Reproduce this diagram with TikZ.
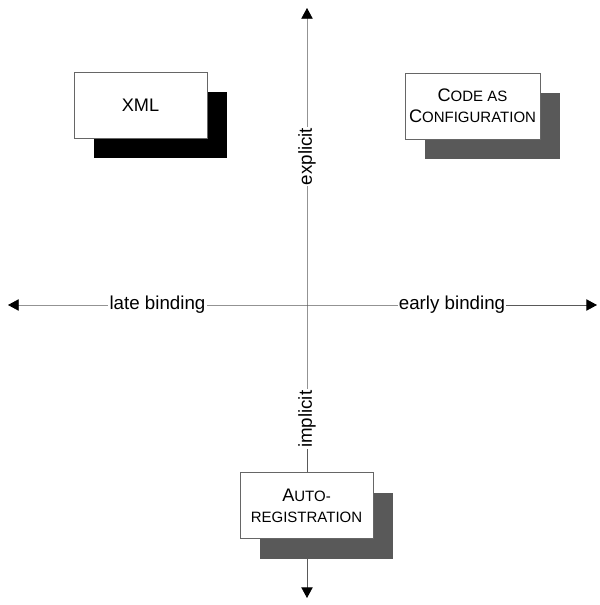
\documentclass[tikz,border=0pt]{standalone}
\usepackage{fontspec}
\setmainfont{Liberation Sans}
\usetikzlibrary{arrows.meta, shadows}

\newcommand{\fakesc}[2]{{\fontsize{15.5}{18}\selectfont #1}{\fontsize{12.8}{18}\selectfont #2}}

\begin{document}
\begin{tikzpicture}[
  x=0.3mm, y=-0.3mm,
  axis/.style={draw=black!65, line width=0.7pt, {Triangle[length=3.2mm, width=3.4mm, color=black]}-{Triangle[length=3.2mm, width=3.4mm, color=black]}},
  axislabel/.style={fill=white, inner sep=1pt, font=\fontsize{16}{18}\selectfont},
  quadbox/.style={rectangle, draw=black!60, line width=0.6pt, fill=white, minimum width=39.9mm, minimum height=19.8mm, align=center, font=\fontsize{15.5}{18}\selectfont},
  darkbox/.style={quadbox, drop shadow={shadow xshift=6mm, shadow yshift=-6mm, fill=black, opacity=1}},
  greybox/.style={quadbox, drop shadow={shadow xshift=6mm, shadow yshift=-6mm, fill=black!65, opacity=1}}
]
  \useasboundingbox (0,0) rectangle (599,605);

  % axes
  \coordinate (north)  at (307,8);
  \coordinate (south)  at (307,598);
  \coordinate (west)   at (8,305);
  \coordinate (east)   at (597,305);
  \coordinate (origin) at (307,305);

  \draw[axis] (west) -- node[axislabel] {late binding} (origin) -- node[axislabel] {early binding} (east);
  \draw[axis] (north) -- node[axislabel, rotate=90] {explicit} (origin) -- node[axislabel, rotate=90, pos=0.39] {implicit} (south);

  % quadrants
  \node[darkbox] (xml)  at (140.5,105)   {XML};
  \node[greybox] (code) at (472.5,106)   {\fakesc{C}{ODE AS}\\\fakesc{C}{ONFIGURATION}};
  \node[greybox] (auto) at (306.5,505.5) {\fakesc{A}{UTO-}\\\fakesc{}{REGISTRATION}};
\end{tikzpicture}
\end{document}
